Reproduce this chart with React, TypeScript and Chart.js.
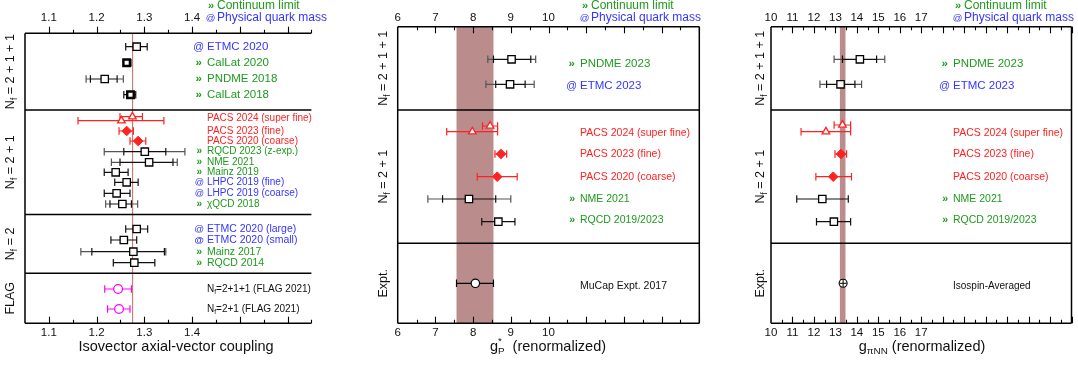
import React, { useEffect, useRef } from "react";
import { Chart, registerables } from "chart.js";
Chart.register(...registerables);

const W = 1078;
const H = 365;
const FONT = '"Liberation Sans", Arial, Helvetica, sans-serif';
const GREEN = "#1e9a1e";
const BLUE = "#3535ff";
const RED = "#ff2222";
const MAGENTA = "#ff00ff";
const BAND = "rgb(186,140,140)";
const REFLINE = "rgb(196,120,112)";

// ---------- Panel A: isovector axial-vector coupling ----------
const gaValues = [1.284, 1.263, 1.217, 1.271, 1.275, 1.252, 1.263, 1.287, 1.301, 1.31, 1.24, 1.263, 1.242, 1.254, 1.284, 1.257, 1.277, 1.279, 1.245, 1.247];
const gaLow = [1.261, 1.256, 1.178, 1.257, 1.249, 1.161, 1.247, 1.27, 1.216, 1.231, 1.216, 1.238, 1.216, 1.219, 1.261, 1.23, 1.167, 1.235, 1.217, 1.223];
const gaHigh = [1.306, 1.272, 1.256, 1.282, 1.296, 1.341, 1.277, 1.303, 1.385, 1.369, 1.266, 1.287, 1.27, 1.286, 1.307, 1.284, 1.345, 1.322, 1.273, 1.27];
const gaStatLow = [null, null, 1.187, null, null, null, null, null, 1.257, 1.249, null, null, null, 1.228, null, null, 1.19, null, null, null];
const gaStatHigh = [null, null, 1.243, null, null, null, null, null, 1.345, 1.36, null, null, null, 1.273, null, null, 1.342, null, null, null];
const gaRows = [1.34, 2.94, 4.57, 6.14, 8.34, 8.74, 9.77, 10.77, 11.84, 12.9, 13.9, 14.9, 16.0, 17.07, 19.57, 20.67, 21.84, 22.94, 25.57, 27.57];
const gaKinds = ["sq", "sqb", "sq", "sqb", "tri", "tri", "dia", "dia", "sq", "sq", "sq", "sq", "sq", "sq", "sq", "sq", "sq", "sq", "flag", "flag"];
const gaLabels = ["ETMC 2020", "CalLat 2020", "PNDME 2018", "CalLat 2018", "PACS 2024 (super fine)", "PACS 2023 (fine)", "PACS 2020 (coarse)", "RQCD 2023 (z-exp.)", "NME 2021", "Mainz 2019", "LHPC 2019 (fine)", "LHPC 2019 (coarse)", "χQCD 2018", "ETMC 2020 (large)", "ETMC 2020 (small)", "Mainz 2017", "RQCD 2014", "N_f=2+1+1 (FLAG 2021)", "N_f=2+1 (FLAG 2021)"];
const gaLabelRows = [1.34, 2.94, 4.57, 6.14, 8.47, 9.77, 10.77, 11.84, 12.9, 13.9, 14.9, 16.0, 17.07, 19.57, 20.67, 21.84, 22.94, 25.57, 27.57];
const gaLabelGroups = ["phys", "cont", "cont", "cont", "pacs", "pacs", "pacs", "cont", "cont", "cont", "phys", "phys", "cont", "phys", "physB", "cont", "cont", "plain", "plain"];
const gaSections = ["N_f = 2 + 1 + 1", "N_f = 2 + 1", "N_f = 2", "FLAG"];
const gaDividers = [7.67, 18.12, 24.0];
const gaTickLabels = [1.1, 1.2, 1.3, 1.4];
const gaPDG = 1.2754;

// ---------- Panel B: induced pseudoscalar coupling g_P* ----------
const gpValues = [9.02, 8.98, 8.45, 7.98, 8.74, 8.64, 7.89, 8.67, 8.06];
const gpLow = [8.39, 8.34, 8.25, 7.3, 8.58, 8.11, 6.8, 8.23, 7.56];
const gpHigh = [9.66, 9.62, 8.65, 8.65, 8.89, 9.17, 9.0, 9.11, 8.54];
const gpStatLow = [8.54, 8.6, null, null, null, null, 7.19, null, null];
const gpStatHigh = [9.53, 9.38, null, null, null, null, 8.6, null, null];
const gpRows = [3.26, 5.76, 9.93, 10.5, 12.73, 15.0, 17.23, 19.5, 25.66];
const gpKinds = ["sq", "sq", "tri", "tri", "dia", "dia", "sq", "sq", "exp"];
const gpLabels = ["PNDME 2023", "ETMC 2023", "PACS 2024 (super fine)", "PACS 2023 (fine)", "PACS 2020 (coarse)", "NME 2021", "RQCD 2019/2023", "MuCap Expt. 2017"];
const gpLabelRows = [3.73, 5.93, 10.66, 12.77, 15.0, 17.26, 19.33, 25.93];
const gpLabelGroups = ["cont", "phys", "pacs", "pacs", "pacs", "cont", "cont", "plain"];
const gpBand = [7.56, 8.54];
const gpTickLabels = [6, 7, 8, 9, 10];

// ---------- Panel C: pion-nucleon coupling g_piNN ----------
const gnValues = [14.14, 13.24, 13.33, 12.56, 13.26, 12.9, 12.39, 12.93, 13.36];
const gnLow = [12.94, 12.28, 12.94, 11.4, 12.98, 12.09, 11.2, 12.12, 13.26];
const gnHigh = [15.3, 14.22, 13.71, 13.71, 13.52, 13.75, 13.6, 13.71, 13.46];
const gnStatLow = [13.33, 12.59, null, null, null, null, null, null, null];
const gnStatHigh = [14.92, 13.91, null, null, null, null, null, null, null];
const gnRows = [3.26, 5.76, 9.83, 10.5, 12.73, 15.0, 17.23, 19.5, 25.66];
const gnKinds = ["sq", "sq", "tri", "tri", "dia", "dia", "sq", "sq", "expx"];
const gnLabels = ["PNDME 2023", "ETMC 2023", "PACS 2024 (super fine)", "PACS 2023 (fine)", "PACS 2020 (coarse)", "NME 2021", "RQCD 2019/2023", "Isospin-Averaged"];
const gnLabelRows = gpLabelRows;
const gnLabelGroups = gpLabelGroups;
const gnBand = [13.21, 13.47];
const gnTickLabels = [10, 11, 12, 13, 14, 15, 16, 17];

const lqcdSections = ["N_f = 2 + 1 + 1", "N_f = 2 + 1", "Expt."];
const lqcdDividers = [8.33, 21.66];

// ---------- helpers ----------
type Part = { t: string; sub?: boolean; sup?: boolean; stack?: boolean; bold?: boolean };

function parseRich(s: string): Part[] {
  const out: Part[] = [];
  const re = /(_|\^)(\{[^}]*\}|.)/g;
  let last = 0;
  let m: RegExpExecArray | null;
  while ((m = re.exec(s))) {
    if (m.index > last) out.push({ t: s.slice(last, m.index) });
    let body = m[2];
    if (body.startsWith("{")) body = body.slice(1, -1);
    const prev = out[out.length - 1];
    const part: Part = { t: body, sub: m[1] === "_", sup: m[1] === "^" };
    if (part.sup && prev && prev.sub) part.stack = true;
    out.push(part);
    last = re.lastIndex;
  }
  if (last < s.length) out.push({ t: s.slice(last) });
  return out;
}

function fontOf(p: Part, size: number) {
  const s = p.sub || p.sup ? size * 0.68 : size;
  return `${p.bold ? "bold " : ""}${s}px ${FONT}`;
}

function drawRich(ctx: CanvasRenderingContext2D, parts: Part[], x: number, y: number, size: number, align: "left" | "center" | "right", color: string) {
  const widths = parts.map((p) => {
    ctx.font = fontOf(p, size);
    return ctx.measureText(p.t).width;
  });
  const pos: number[] = [];
  let cx = 0;
  let prevStart = 0;
  let prevW = 0;
  parts.forEach((p, i) => {
    if (p.stack) {
      pos.push(prevStart);
      cx = Math.max(prevStart + prevW, prevStart + widths[i]);
    } else {
      pos.push(cx);
      prevStart = cx;
      prevW = widths[i];
      cx += widths[i];
    }
  });
  const x0 = align === "center" ? x - cx / 2 : align === "right" ? x - cx : x;
  ctx.textAlign = "left";
  ctx.textBaseline = "middle";
  ctx.fillStyle = color;
  parts.forEach((p, i) => {
    ctx.font = fontOf(p, size);
    const dy = p.sub ? size * 0.32 : p.sup ? -size * 0.38 : 0;
    ctx.fillText(p.t, x0 + pos[i], y + dy);
  });
}

const kindStyle: Record<string, any> = {
  sq: { pointStyle: "rect", radius: 5.2, bg: "#fff", border: "#000", bw: 1.3, err: "#111", outer: "#555" },
  sqb: { pointStyle: "rect", radius: 4.6, bg: "#fff", border: "#000", bw: 2.4, err: "#111", outer: "#555" },
  tri: { pointStyle: "triangle", radius: 4.4, bg: "#fff", border: RED, bw: 1.3, err: RED, outer: RED },
  dia: { pointStyle: "rectRot", radius: 4.8, bg: RED, border: RED, bw: 1, err: RED, outer: RED },
  flag: { pointStyle: "circle", radius: 4.4, bg: "#fff", border: MAGENTA, bw: 1.3, err: MAGENTA, outer: MAGENTA },
  exp: { pointStyle: "circle", radius: 4.2, bg: "#fff", border: "#000", bw: 1.2, err: "#000", outer: "#000" },
  expx: { pointStyle: "circle", radius: 4.0, bg: "#fff", border: "#000", bw: 1.1, err: "#000", outer: "#000" },
};

const groupStyle: Record<string, { prefix: string; color: string; bold?: boolean }> = {
  cont: { prefix: "»", color: GREEN },
  phys: { prefix: "@", color: BLUE },
  physB: { prefix: "@", color: BLUE, bold: true },
  pacs: { prefix: "", color: RED },
  plain: { prefix: "", color: "#111" },
};

type PanelCfg = {
  values: number[];
  low: number[];
  high: number[];
  statLow: (number | null)[];
  statHigh: (number | null)[];
  rows: number[];
  kinds: string[];
  labels: string[];
  labelRows: number[];
  labelGroups: string[];
  sections: string[];
  dividers: number[];
  tickLabels: number[];
  xmin: number;
  xmax: number;
  rowMax: number;
  area: [number, number, number, number];
  minorStep: number;
  majorStep: number;
  decimals: number;
  topTicksOut: boolean;
  rightBorder: boolean;
  band?: number[];
  refLine?: number;
  labelX: number;
  headerX: number;
  sectionX: number;
  sectionFont: number[];
  title: string;
  titleX: number;
};

function makePlugin(p: PanelCfg) {
  return {
    id: "panelDeco",
    beforeDatasetsDraw(chart: any) {
      const ctx: CanvasRenderingContext2D = chart.ctx;
      const xs = chart.scales.x;
      const ys = chart.scales.y;
      const { left, right, top, bottom } = chart.chartArea;
      ctx.save();
      if (p.band) {
        const x0 = xs.getPixelForValue(p.band[0]);
        const x1 = xs.getPixelForValue(p.band[1]);
        ctx.fillStyle = BAND;
        ctx.fillRect(x0, top, x1 - x0, bottom - top);
      }
      if (p.refLine != null) {
        const xr = xs.getPixelForValue(p.refLine);
        ctx.strokeStyle = REFLINE;
        ctx.lineWidth = 1.1;
        ctx.beginPath();
        ctx.moveTo(xr, top);
        ctx.lineTo(xr, bottom);
        ctx.stroke();
      }
      // frame
      ctx.strokeStyle = "#000";
      ctx.lineWidth = 1.5;
      ctx.beginPath();
      ctx.moveTo(left, top);
      ctx.lineTo(right, top);
      ctx.moveTo(left, bottom);
      ctx.lineTo(right, bottom);
      ctx.moveTo(left, top);
      ctx.lineTo(left, bottom);
      if (p.rightBorder) {
        ctx.moveTo(right, top);
        ctx.lineTo(right, bottom);
      }
      p.dividers.forEach((d) => {
        const yd = ys.getPixelForValue(d);
        ctx.moveTo(left, yd);
        ctx.lineTo(right, yd);
      });
      ctx.stroke();
      // ticks
      ctx.lineWidth = 1.1;
      ctx.beginPath();
      const n0 = Math.ceil(p.xmin / p.minorStep - 1e-6);
      const n1 = Math.floor(p.xmax / p.minorStep + 1e-6);
      for (let i = n0; i <= n1; i++) {
        const v = i * p.minorStep;
        if (Math.abs(v - p.xmin) < 1e-9) continue;
        const r = v / p.majorStep;
        const major = Math.abs(r - Math.round(r)) < 1e-6;
        const len = major ? 6.5 : 3.5;
        const xp = Math.round(xs.getPixelForValue(v)) + 0.5;
        if (p.topTicksOut) {
          ctx.moveTo(xp, top);
          ctx.lineTo(xp, top - len);
        } else {
          ctx.moveTo(xp, top);
          ctx.lineTo(xp, top + len);
        }
        ctx.moveTo(xp, bottom);
        ctx.lineTo(xp, bottom - len);
      }
      ctx.stroke();
      // tick labels
      ctx.fillStyle = "#111";
      ctx.font = `11.5px ${FONT}`;
      ctx.textAlign = "center";
      ctx.textBaseline = "middle";
      p.tickLabels.forEach((v) => {
        const xp = xs.getPixelForValue(v);
        const s = v.toFixed(p.decimals);
        ctx.fillText(s, xp, 17.5);
        ctx.fillText(s, xp, 333);
      });
      // header
      drawRich(ctx, [{ t: "»", bold: true }], p.headerX - 3, 6, 11, "right", GREEN);
      drawRich(ctx, [{ t: "Continuum limit" }], p.headerX, 6, 12, "left", GREEN);
      drawRich(ctx, [{ t: "@" }], p.headerX - 1.5, 18, 9.5, "right", BLUE);
      drawRich(ctx, [{ t: "Physical quark mass" }], p.headerX, 18, 12, "left", BLUE);
      // section labels (rotated)
      const bounds = [0, ...p.dividers, p.rowMax];
      p.sections.forEach((s, i) => {
        const yc = (ys.getPixelForValue(bounds[i]) + ys.getPixelForValue(bounds[i + 1])) / 2;
        ctx.save();
        ctx.translate(p.sectionX, yc);
        ctx.rotate(-Math.PI / 2);
        drawRich(ctx, parseRich(s), 0, 0, 12.5, "center", "#111");
        ctx.restore();
      });
      // x title
      drawRich(ctx, parseRich(p.title), p.titleX, 347, 14.5, "center", "#111");
      // data labels
      p.labels.forEach((s, i) => {
        const row = p.labelRows[i];
        let sec = 0;
        while (sec < p.dividers.length && row > p.dividers[sec]) sec++;
        const size = p.sectionFont[sec];
        const g = groupStyle[p.labelGroups[i]];
        const yl = ys.getPixelForValue(row);
        if (g.prefix === "»") {
          drawRich(ctx, [{ t: "»", bold: true }], p.labelX - 5, yl, size, "right", g.color);
        } else if (g.prefix === "@") {
          drawRich(ctx, [{ t: "@", bold: g.bold }], p.labelX - 3, yl, size * 0.92, "right", g.color);
        }
        drawRich(ctx, parseRich(s), p.labelX, yl, size, "left", g.color);
      });
      // error bars
      p.values.forEach((_, i) => {
        const st = kindStyle[p.kinds[i]];
        const yp = ys.getPixelForValue(p.rows[i]);
        const xl = xs.getPixelForValue(p.low[i]);
        const xh = xs.getPixelForValue(p.high[i]);
        const cap = 3.8;
        ctx.lineWidth = 1.2;
        const sl = p.statLow[i];
        const sh = p.statHigh[i];
        if (sl != null && sh != null) {
          const xsl = xs.getPixelForValue(sl);
          const xsh = xs.getPixelForValue(sh);
          ctx.strokeStyle = st.outer;
          ctx.beginPath();
          ctx.moveTo(xl, yp);
          ctx.lineTo(xsl, yp);
          ctx.moveTo(xsh, yp);
          ctx.lineTo(xh, yp);
          ctx.moveTo(xl, yp - cap);
          ctx.lineTo(xl, yp + cap);
          ctx.moveTo(xh, yp - cap);
          ctx.lineTo(xh, yp + cap);
          ctx.stroke();
          ctx.strokeStyle = st.err;
          ctx.beginPath();
          ctx.moveTo(xsl, yp);
          ctx.lineTo(xsh, yp);
          ctx.moveTo(xsl, yp - cap);
          ctx.lineTo(xsl, yp + cap);
          ctx.moveTo(xsh, yp - cap);
          ctx.lineTo(xsh, yp + cap);
          ctx.stroke();
        } else {
          ctx.strokeStyle = st.err;
          ctx.beginPath();
          ctx.moveTo(xl, yp);
          ctx.lineTo(xh, yp);
          ctx.moveTo(xl, yp - cap);
          ctx.lineTo(xl, yp + cap);
          ctx.moveTo(xh, yp - cap);
          ctx.lineTo(xh, yp + cap);
          ctx.stroke();
        }
      });
      ctx.restore();
    },
  };
}

function buildDatasets(p: PanelCfg) {
  const kinds = Array.from(new Set(p.kinds));
  const ds: any[] = [];
  kinds.forEach((k) => {
    const st = kindStyle[k];
    const data = p.values.map((v, i) => ({ x: v, y: p.rows[i], k: p.kinds[i] })).filter((d) => d.k === k).map((d) => ({ x: d.x, y: d.y }));
    ds.push({
      data,
      order: 2,
      pointStyle: st.pointStyle,
      pointRadius: st.radius,
      backgroundColor: st.bg,
      borderColor: st.border,
      pointBorderWidth: st.bw,
      borderWidth: st.bw,
      clip: false,
    });
    if (k === "expx") {
      ds.push({
        data,
        order: 0,
        pointStyle: "cross",
        pointRadius: 3.6,
        backgroundColor: "#000",
        borderColor: "#000",
        pointBorderWidth: 1,
        borderWidth: 1,
        clip: false,
      });
    }
  });
  return ds;
}

const panels: PanelCfg[] = [
  {
    values: gaValues, low: gaLow, high: gaHigh, statLow: gaStatLow, statHigh: gaStatHigh, rows: gaRows, kinds: gaKinds,
    labels: gaLabels, labelRows: gaLabelRows, labelGroups: gaLabelGroups, sections: gaSections, dividers: gaDividers,
    tickLabels: gaTickLabels, xmin: 1.05, xmax: 1.65, rowMax: 29, area: [25, 33.3, 311.4, 323.3],
    minorStep: 0.05, majorStep: 0.1, decimals: 1, topTicksOut: true, rightBorder: false, refLine: gaPDG,
    labelX: 207, headerX: 217, sectionX: 11, sectionFont: [11.5, 10, 10.5, 10],
    title: "Isovector axial-vector coupling", titleX: 176,
  },
  {
    values: gpValues, low: gpLow, high: gpHigh, statLow: gpStatLow, statHigh: gpStatHigh, rows: gpRows, kinds: gpKinds,
    labels: gpLabels, labelRows: gpLabelRows, labelGroups: gpLabelGroups, sections: lqcdSections, dividers: lqcdDividers,
    tickLabels: gpTickLabels, xmin: 6, xmax: 14, rowMax: 29.66, area: [397.7, 26.7, 699.3, 323.3],
    minorStep: 0.5, majorStep: 1, decimals: 0, topTicksOut: false, rightBorder: true, band: gpBand,
    labelX: 580, headerX: 591, sectionX: 384, sectionFont: [11.5, 10.5, 10.5],
    title: "g_{P}^{*}  (renormalized)", titleX: 548,
  },
  {
    values: gnValues, low: gnLow, high: gnHigh, statLow: gnStatLow, statHigh: gnStatHigh, rows: gnRows, kinds: gnKinds,
    labels: gnLabels, labelRows: gnLabelRows, labelGroups: gnLabelGroups, sections: lqcdSections, dividers: lqcdDividers,
    tickLabels: gnTickLabels, xmin: 10, xmax: 24, rowMax: 29.66, area: [771, 26.7, 1071.7, 323.3],
    minorStep: 0.5, majorStep: 1, decimals: 0, topTicksOut: false, rightBorder: true, band: gnBand,
    labelX: 953, headerX: 964, sectionX: 761, sectionFont: [11.5, 10.5, 10],
    title: "g_{πNN} (renormalized)", titleX: 922,
  },
];

function Panel({ cfg }: { cfg: PanelCfg }) {
  const ref = useRef<HTMLCanvasElement | null>(null);
  useEffect(() => {
    if (!ref.current) return;
    const [l, t, r, b] = cfg.area;
    const chart = new Chart(ref.current, {
      type: "scatter",
      data: { datasets: buildDatasets(cfg) },
      options: {
        responsive: false,
        animation: false,
        events: [],
        layout: { padding: { left: l, top: t, right: W - r, bottom: H - b } },
        plugins: { legend: { display: false }, tooltip: { enabled: false } },
        scales: {
          x: { type: "linear", min: cfg.xmin, max: cfg.xmax, display: false },
          y: { type: "linear", min: 0, max: cfg.rowMax, reverse: true, display: false },
        },
      },
      plugins: [makePlugin(cfg)],
    } as any);
    return () => chart.destroy();
  }, [cfg]);
  return <canvas ref={ref} width={W} height={H} style={{ position: "absolute", left: 0, top: 0, width: W, height: H }} />;
}

export default function App() {
  return (
    <div style={{ position: "fixed", left: 0, top: 0, width: W, height: H, background: "#fff", overflow: "hidden" }}>
      {panels.map((p, i) => (
        <Panel key={i} cfg={p} />
      ))}
    </div>
  );
}
